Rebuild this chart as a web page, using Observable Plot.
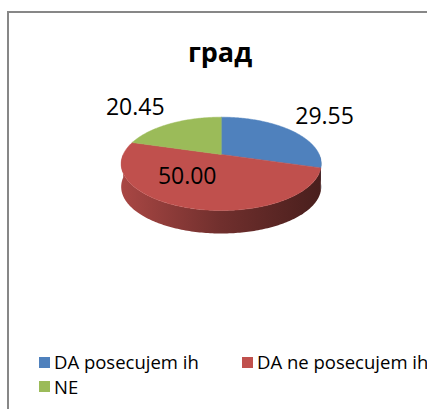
<!DOCTYPE html>
<html><head><meta charset="utf-8">
<script src="https://cdn.jsdelivr.net/npm/d3@7"></script>
<script src="https://cdn.jsdelivr.net/npm/@observablehq/plot@0.6"></script>
<style>
html,body{margin:0;padding:0;width:427px;height:409px;overflow:hidden;background:#fff;font-family:"Open Sans",sans-serif;}
#frame{position:absolute;left:7px;top:11px;width:460px;height:440px;border:2px solid #878787;box-sizing:border-box;}
#title{position:absolute;left:0;top:38px;width:440px;text-align:center;font-weight:bold;font-size:27px;line-height:27px;color:#000;}
#chart{position:absolute;left:0;top:70px;}
#legend{position:absolute;left:39px;top:350px;width:406px;font-size:18.5px;line-height:24.7px;color:#000;}
.item{display:inline-block;width:203px;white-space:nowrap;}
.sw{display:inline-block;width:11px;height:11px;margin-right:4px;vertical-align:1.3px;}
</style></head><body>
<div id="frame"></div>
<div id="title"></div>
<div id="chart"></div>
<div id="legend"></div>
<script>
// ---- data ----
const chartTitle = "град";
const categories = ["DA posecujem ih", "DA ne posecujem ih", "NE"];
const values = [29.55, 50.00, 20.45];
const valueLabels = ["29.55", "50.00", "20.45"];
const colors = ["#4F81BD", "#C0504D", "#9BBB59"];

// ---- geometry helpers (3D tilt with perspective) ----
const persp = 0.2;        // perspective strength
const depth = 23 / 44.8;  // pie thickness in y units
const rad = d => d * Math.PI / 180;
function proj(r, deg) {
  const u = r * Math.sin(rad(deg)), v = r * Math.cos(rad(deg));
  const w = 1 + persp * v;
  return [u / w, v / w];
}
const total = d3.sum(values);
let acc = 0;
const slices = values.map((v, i) => {
  const a0 = acc / total * 360; acc += v;
  const a1 = acc / total * 360;
  return {i, category: categories[i], value: v, label: valueLabels[i], a0, a1, mid: (a0 + a1) / 2};
});
function arc(a0, a1) {
  const pts = [];
  const n = Math.max(2, Math.ceil((a1 - a0) / 1));
  for (let k = 0; k <= n; k++) pts.push(a0 + (a1 - a0) * k / n);
  return pts;
}
const topPts = slices.flatMap(s => {
  const c = proj(0, 0);
  return [{category: s.category, x: c[0], y: c[1]},
    ...arc(s.a0, s.a1).map(a => { const p = proj(1, a); return {category: s.category, x: p[0], y: p[1]}; })];
});
const sideSets = slices.map(s => {
  const b0 = Math.max(s.a0, 90), b1 = Math.min(s.a1, 270);
  if (b1 <= b0) return null;
  const angs = arc(b0, b1);
  const upper = angs.map(a => { const p = proj(1, a); return {x: p[0], y: p[1]}; });
  const lower = angs.slice().reverse().map(a => { const p = proj(1, a); return {x: p[0], y: p[1] - depth}; });
  return {s, pts: [...upper, ...lower]};
}).filter(Boolean);

const outside = slices.filter(s => s.value < 40).map(s => {
  const p = proj(1, s.mid);
  return {...s, x: p[0], y: p[1], right: Math.sin(rad(s.mid)) > 0};
});
const inside = slices.filter(s => s.value >= 40).map(s => {
  const p = proj(0.55, s.mid);
  return {...s, x: p[0], y: p[1]};
});

// ---- plot ----
const W = 427, H = 200, A = 98, B = 44.8, cx = 220.7, cy = 84;
const svg = Plot.plot({
  width: W, height: H, margin: 0,
  style: {background: "transparent", overflow: "visible"},
  x: {domain: [-cx / A, (W - cx) / A], range: [0, W], axis: null},
  y: {domain: [cy / B, -(H - cy) / B], range: [0, H], axis: null},
  color: {domain: categories, range: colors, type: "ordinal"},
  marks: [
    ...sideSets.map(ss => Plot.line(ss.pts, {x: "x", y: "y", fill: `url(#side${ss.s.i})`, stroke: "none", curve: "linear-closed"})),
    Plot.line(topPts, {x: "x", y: "y", z: "category", fill: "category", stroke: "category", strokeWidth: 0.5, curve: "linear-closed"}),
    Plot.text(outside.filter(d => d.right), {x: "x", y: "y", text: "label", textAnchor: "start", lineAnchor: "bottom", dx: 4, dy: -7, fontSize: 23, fontFamily: "Open Sans", fill: "#000"}),
    Plot.text(outside.filter(d => !d.right), {x: "x", y: "y", text: "label", textAnchor: "end", lineAnchor: "bottom", dx: -6, dy: -9, fontSize: 23, fontFamily: "Open Sans", fill: "#000"}),
    Plot.text(inside, {x: "x", y: "y", text: "label", textAnchor: "middle", lineAnchor: "middle", dx: -17, dy: -4, fontSize: 23, fontFamily: "Open Sans", fill: "#000"})
  ]
});
const defs = d3.select(svg).insert("defs", ":first-child");
slices.forEach(s => {
  const base = d3.color(colors[s.i]);
  const g = defs.append("linearGradient").attr("id", `side${s.i}`).attr("x1", 0).attr("x2", 1).attr("y1", 0).attr("y2", 0);
  g.append("stop").attr("offset", 0).attr("stop-color", base.darker(0.35).formatHex());
  g.append("stop").attr("offset", 0.5).attr("stop-color", base.darker(1.5).formatHex());
  g.append("stop").attr("offset", 1).attr("stop-color", base.darker(2.7).formatHex());
});
document.getElementById("chart").appendChild(svg);
document.getElementById("title").textContent = chartTitle;

const legend = document.getElementById("legend");
categories.forEach((c, i) => {
  const item = document.createElement("span");
  item.className = "item";
  const sw = document.createElement("span");
  sw.className = "sw";
  sw.style.background = colors[i];
  item.appendChild(sw);
  item.appendChild(document.createTextNode(c));
  legend.appendChild(item);
});
</script>
</body></html>
